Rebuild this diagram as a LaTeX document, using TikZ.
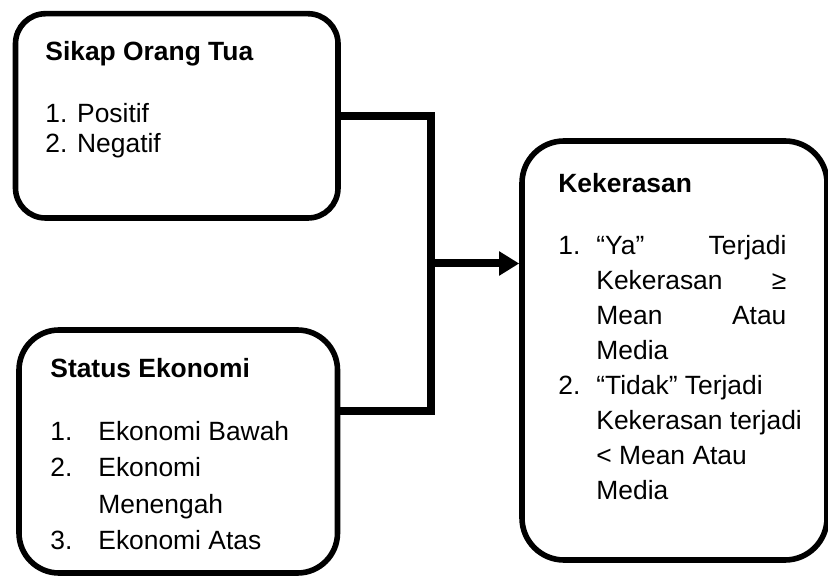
\documentclass[tikz,border=0pt]{standalone}
\usepackage{fontspec}
\setmainfont{Liberation Sans}
\usetikzlibrary{arrows.meta,positioning}
\tikzset{
>={Triangle[length=10pt,width=11.5pt]},
box/.style={draw, line width=2.8pt, rounded corners=#1},
box/.default=15pt,
txt/.style={inner sep=0pt, anchor=base west},
link/.style={line width=4pt},
}

\begin{document}
\begin{tikzpicture}[x=0.5pt,y=-0.5pt]
    \useasboundingbox (0,0) rectangle (828,576);
    \node[box=15pt, minimum width=161.25pt, minimum height=102.15pt] (ortu) at (176.75,115.85) {};
    \node[box=20pt, minimum width=159.25pt, minimum height=121.5pt] (ekon) at (178.25,451.5) {};
    \node[box=21pt, minimum width=152.5pt, minimum height=209.5pt] (keras) at (674.5,350.5) {};
    %isi kotak
    \node[txt, font=\fontsize{13.2pt}{15pt}\selectfont] (ortuT) at (45,61) {\begin{tabular}[t]{@{}l@{}}
        \textbf{Sikap Orang Tua}\\[16pt]
        1. Positif\\
        2. Negatif
    \end{tabular}};
    \node[txt, font=\fontsize{13.2pt}{18pt}\selectfont] (ekonT) at (50,378) {\begin{tabular}[t]{@{}p{24pt}@{}l@{}}
        \multicolumn{2}{@{}l@{}}{\textbf{Status Ekonomi}}\\[13.5pt]
        1. & Ekonomi Bawah\\
        2. & Ekonomi\\
           & Menengah\\
        3. & Ekonomi Atas
    \end{tabular}};
    \node[txt, font=\fontsize{13.2pt}{17.5pt}\selectfont] (kerasT) at (558,193) {\begin{tabular}[t]{@{}p{19pt}@{}l@{}}
        \multicolumn{2}{@{}l@{}}{\textbf{Kekerasan}}\\[13.5pt]
        1. & \makebox[95pt][s]{“Ya” Terjadi}\\
           & \makebox[95pt][s]{Kekerasan ≥}\\
           & \makebox[95pt][s]{Mean Atau}\\
           & Media\\
        2. & “Tidak” Terjadi\\
           & Kekerasan terjadi\\
           & < Mean Atau\\
           & Media
    \end{tabular}};
    %garis penghubung
    \coordinate (jx) at (430.5,263.5);
    \coordinate (j1) at (430.5,411);
    \draw[link] (ortu.east) -| (j1) -- (ekon.east |- j1);
    \draw[link,->] (jx) -- (keras.west |- jx);
\end{tikzpicture}
\end{document}
